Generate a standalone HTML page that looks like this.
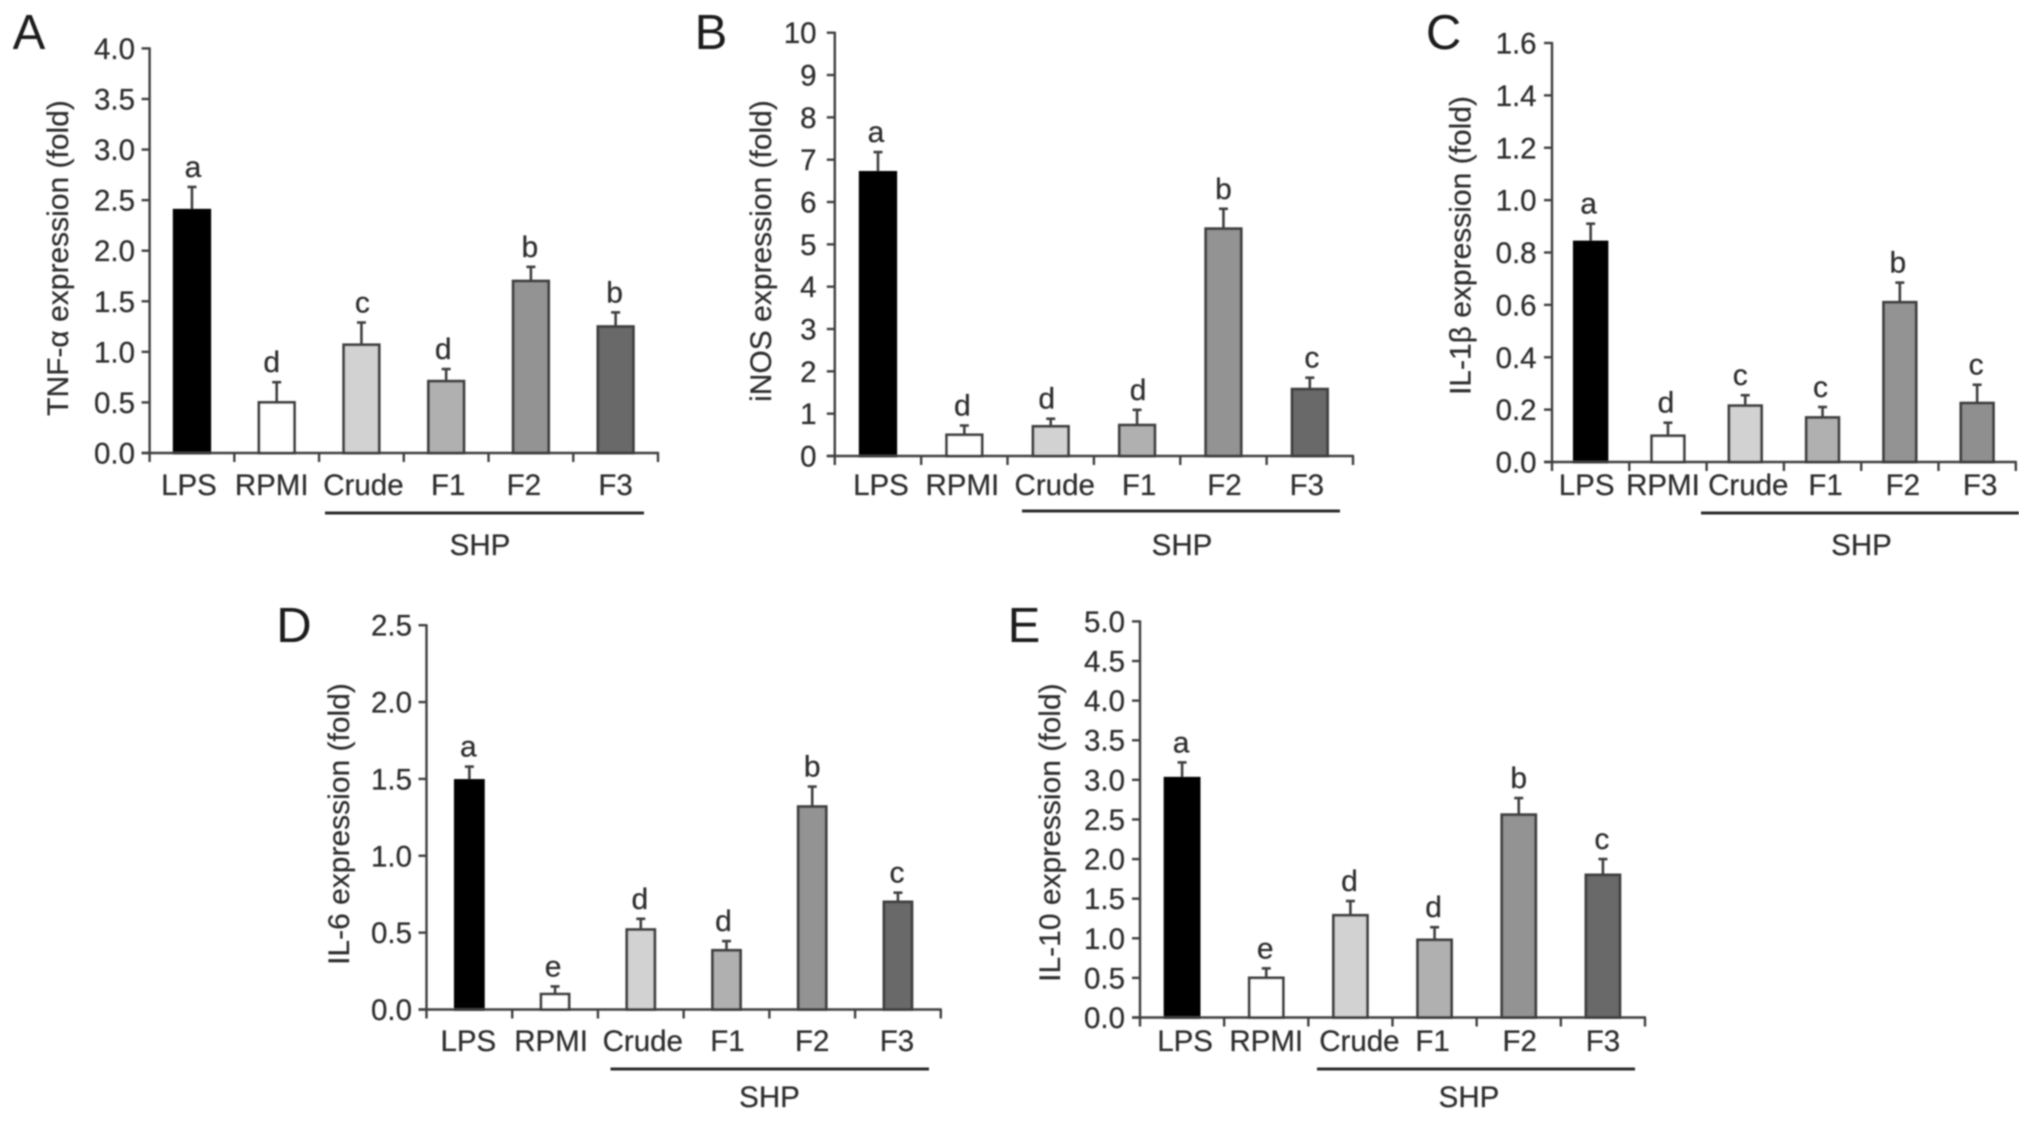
<!DOCTYPE html>
<html lang="en">
<head>
<meta charset="utf-8">
<title>Cytokine expression bar charts</title>
<style>
  html, body { margin: 0; padding: 0; background: #fff; }
  svg { display: block; }
  text { font-family: "Liberation Sans", "DejaVu Sans", sans-serif; fill: #2e2e2e; stroke: #2e2e2e; stroke-width: 0.25; }
</style>
</head>
<body>
<svg id="figure" xmlns="http://www.w3.org/2000/svg" width="2032" height="1121" viewBox="0 0 2032 1121">
  <defs>
    <filter id="soft" x="0" y="0" width="100%" height="100%">
      <feGaussianBlur stdDeviation="0.8"></feGaussianBlur>
    </filter>
  </defs>
  <rect width="2032" height="1121" fill="#fff"></rect>
  <g id="plots" filter="url(#soft)"></g>
</svg>
<script>
const categories = ['LPS', 'RPMI', 'Crude', 'F1', 'F2', 'F3'];
const groupLabel = 'SHP';

const ticksA = ['0.0', '0.5', '1.0', '1.5', '2.0', '2.5', '3.0', '3.5', '4.0'];
const valuesA = [2.40, 0.50, 1.07, 0.71, 1.70, 1.25];
const errorsA = [0.23, 0.20, 0.22, 0.12, 0.14, 0.14];
const lettersA = ['a', 'd', 'c', 'd', 'b', 'b'];

const ticksB = ['0', '1', '2', '3', '4', '5', '6', '7', '8', '9', '10'];
const valuesB = [6.70, 0.50, 0.70, 0.73, 5.37, 1.58];
const errorsB = [0.48, 0.22, 0.18, 0.36, 0.47, 0.27];
const lettersB = ['a', 'd', 'd', 'd', 'b', 'c'];

const ticksC = ['0.0', '0.2', '0.4', '0.6', '0.8', '1.0', '1.2', '1.4', '1.6'];
const valuesC = [0.84, 0.10, 0.215, 0.17, 0.61, 0.225];
const errorsC = [0.07, 0.05, 0.04, 0.04, 0.075, 0.07];
const lettersC = ['a', 'd', 'c', 'c', 'b', 'c'];

const ticksD = ['0.0', '0.5', '1.0', '1.5', '2.0', '2.5'];
const valuesD = [1.49, 0.10, 0.52, 0.385, 1.32, 0.70];
const errorsD = [0.09, 0.05, 0.07, 0.06, 0.13, 0.06];
const lettersD = ['a', 'e', 'd', 'd', 'b', 'c'];

const ticksE = ['0.0', '0.5', '1.0', '1.5', '2.0', '2.5', '3.0', '3.5', '4.0', '4.5', '5.0'];
const valuesE = [3.02, 0.50, 1.29, 0.98, 2.56, 1.80];
const errorsE = [0.20, 0.12, 0.18, 0.16, 0.21, 0.20];
const lettersE = ['a', 'e', 'd', 'd', 'b', 'c'];

const fillsDefault = ['#000000', '#ffffff', '#d2d2d2', '#b0b0b0', '#939393', '#696969'];
const fillsC = ['#000000', '#ffffff', '#d2d2d2', '#b0b0b0', '#939393', '#8f8f8f'];

const panels = [
  { id: 'a', letter: 'A', title: 'TNF-α expression (fold)', ticks: ticksA, values: valuesA, errors: errorsA, letters: lettersA, fills: fillsDefault,
    frame: { left: 149.6, right: 658, top: 48.4, bottom: 453 }, barWidth: 35.5,
    nudge: [-3, -5, 2, 2, -7, 0], letterNudge: [1, -5, 1, -3, -1, -1],
    titleAt: { x: 68, y: 258 }, tickRight: 135, letterAt: { x: 29, y: 49 },
    labelBase: 495, rule: { x1: 325, x2: 644, y: 513 }, groupAt: { x: 480, y: 555 } },
  { id: 'b', letter: 'B', title: 'iNOS expression (fold)', ticks: ticksB, values: valuesB, errors: errorsB, letters: lettersB, fills: fillsDefault,
    frame: { left: 834.8, right: 1353, top: 32.7, bottom: 456 }, barWidth: 35.5,
    nudge: [3, -2, 4, 2, 1, -3], letterNudge: [-2, -2, -4, 1, 0, 2],
    titleAt: { x: 771, y: 251 }, tickRight: 816.6, letterAt: { x: 711, y: 49 },
    labelBase: 495, rule: { x1: 1022, x2: 1340, y: 511 }, groupAt: { x: 1182, y: 555 } },
  { id: 'c', letter: 'C', title: 'IL-1β expression (fold)', ticks: ticksC, values: valuesC, errors: errorsC, letters: lettersC, fills: fillsC,
    frame: { left: 1552, right: 2015.8, top: 43, bottom: 462 }, barWidth: 32.6,
    nudge: [-4, -5, 3, 3, 3, 3], letterNudge: [-2, -2, -5, -2, -2, -1],
    titleAt: { x: 1470.6, y: 245.5 }, tickRight: 1536.6, letterAt: { x: 1443.6, y: 49 },
    labelBase: 495, rule: { x1: 1701, x2: 2019, y: 513 }, groupAt: { x: 1861.5, y: 555 } },
  { id: 'd', letter: 'D', title: 'IL-6 expression (fold)', ticks: ticksD, values: valuesD, errors: errorsD, letters: lettersD, fills: fillsDefault,
    frame: { left: 426.5, right: 940.8, top: 625.2, bottom: 1009.5 }, barWidth: 28,
    nudge: [-1, -4, 2, 1, 0, -1], letterNudge: [-1, -2, -1, -3, 0, -1],
    titleAt: { x: 349, y: 824 }, tickRight: 412, letterAt: { x: 294, y: 642 },
    labelBase: 1051, rule: { x1: 610.5, x2: 929, y: 1069 }, groupAt: { x: 769.5, y: 1107 } },
  { id: 'e', letter: 'E', title: 'IL-10 expression (fold)', ticks: ticksE, values: valuesE, errors: errorsE, letters: lettersE, fills: fillsDefault,
    frame: { left: 1140, right: 1645, top: 621.4, bottom: 1017.5 }, barWidth: 34,
    nudge: [3, 0, 9, -2, 1, 0], letterNudge: [-1, -1, -1, -1, 0, -1],
    titleAt: { x: 1060, y: 832.6 }, tickRight: 1125, letterAt: { x: 1024, y: 642 },
    labelBase: 1051, rule: { x1: 1317, x2: 1635, y: 1069 }, groupAt: { x: 1469, y: 1107 } }
];

const SVG_NS = 'http://www.w3.org/2000/svg';
const INK = '#3f3f3f';
const root = document.getElementById('plots');

function make(tag, attrs, parent, content) {
  const el = document.createElementNS(SVG_NS, tag);
  for (const key in attrs) el.setAttribute(key, attrs[key]);
  if (content !== undefined) el.textContent = content;
  parent.appendChild(el);
  return el;
}

function yScale(p) {
  const max = Math.max.apply(null, p.ticks.map(Number));
  return function (v) { return p.frame.bottom - (v / max) * (p.frame.bottom - p.frame.top); };
}

function bandWidth(p) {
  return (p.frame.right - p.frame.left) / categories.length;
}

function xCenter(p, i) {
  return p.frame.left + bandWidth(p) * (i + 0.5);
}

function drawPanel(p) {
  const y = yScale(p);
  const f = p.frame;

  const group = make('g', {}, root);
  
  

  const panelLetter = make('text', { x: p.letterAt.x, y: p.letterAt.y, 'text-anchor': 'middle', 'font-size': 49, style: 'fill:#1a1a1a;stroke:none' }, group, p.letter);
  
  

  const yTitle = make('text', { x: p.titleAt.x, y: p.titleAt.y, 'text-anchor': 'middle', 'font-size': 30, transform: 'rotate(-90 ' + p.titleAt.x + ' ' + p.titleAt.y + ')' }, group, p.title);
  
  

  p.values.forEach(function (v, i) {
    const cx = xCenter(p, i);
    const top = y(v);
    const errTop = y(v + p.errors[i]);

    const errStem = make('line', { x1: cx, x2: cx, y1: top, y2: errTop, stroke: INK, 'stroke-width': 2.6 }, group);
    
    

    const errCap = make('line', { x1: cx - 4.5, x2: cx + 4.5, y1: errTop, y2: errTop, stroke: INK, 'stroke-width': 2.6 }, group);
    
    

    const bar = make('rect', { x: cx - p.barWidth / 2, y: top, width: p.barWidth, height: f.bottom - top, fill: p.fills[i], stroke: i === 0 ? '#000' : INK, 'stroke-width': 2.8 }, group);
    
    

    const sig = make('text', { x: cx + p.letterNudge[i], y: errTop - 10, 'text-anchor': 'middle', 'font-size': 30 }, group, p.letters[i]);
    
    

    const cat = make('text', { x: cx + p.nudge[i], y: p.labelBase, 'text-anchor': 'middle', 'font-size': 29.5 }, group, categories[i]);
    
    
  });

  const yAxis = make('line', { x1: f.left, x2: f.left, y1: f.top - 1, y2: f.bottom + 9, stroke: INK, 'stroke-width': 2.4 }, group);
  
  

  const xAxis = make('line', { x1: f.left - 8, x2: f.right + 1, y1: f.bottom, y2: f.bottom, stroke: INK, 'stroke-width': 2.6 }, group);
  
  

  p.ticks.forEach(function (label) {
    const ty = y(Number(label));

    const mark = make('line', { x1: f.left - 8, x2: f.left, y1: ty, y2: ty, stroke: INK, 'stroke-width': 2.4 }, group);
    
    

    const text = make('text', { x: p.tickRight, y: ty + 10.5, 'text-anchor': 'end', 'font-size': 29.5 }, group, label);
    
    
  });

  for (let i = 1; i <= categories.length; i++) {
    const tx = f.left + bandWidth(p) * i;
    const mark = make('line', { x1: tx, x2: tx, y1: f.bottom, y2: f.bottom + 9, stroke: INK, 'stroke-width': 2.4 }, group);
    
    
  }

  const rule = make('line', { x1: p.rule.x1, x2: p.rule.x2, y1: p.rule.y, y2: p.rule.y, stroke: '#2a2a2a', 'stroke-width': 3 }, group);
  
  

  const shp = make('text', { x: p.groupAt.x, y: p.groupAt.y, 'text-anchor': 'middle', 'font-size': 29.5 }, group, groupLabel);
  
  
}

panels.forEach(drawPanel);
</script>
</body>
</html>
